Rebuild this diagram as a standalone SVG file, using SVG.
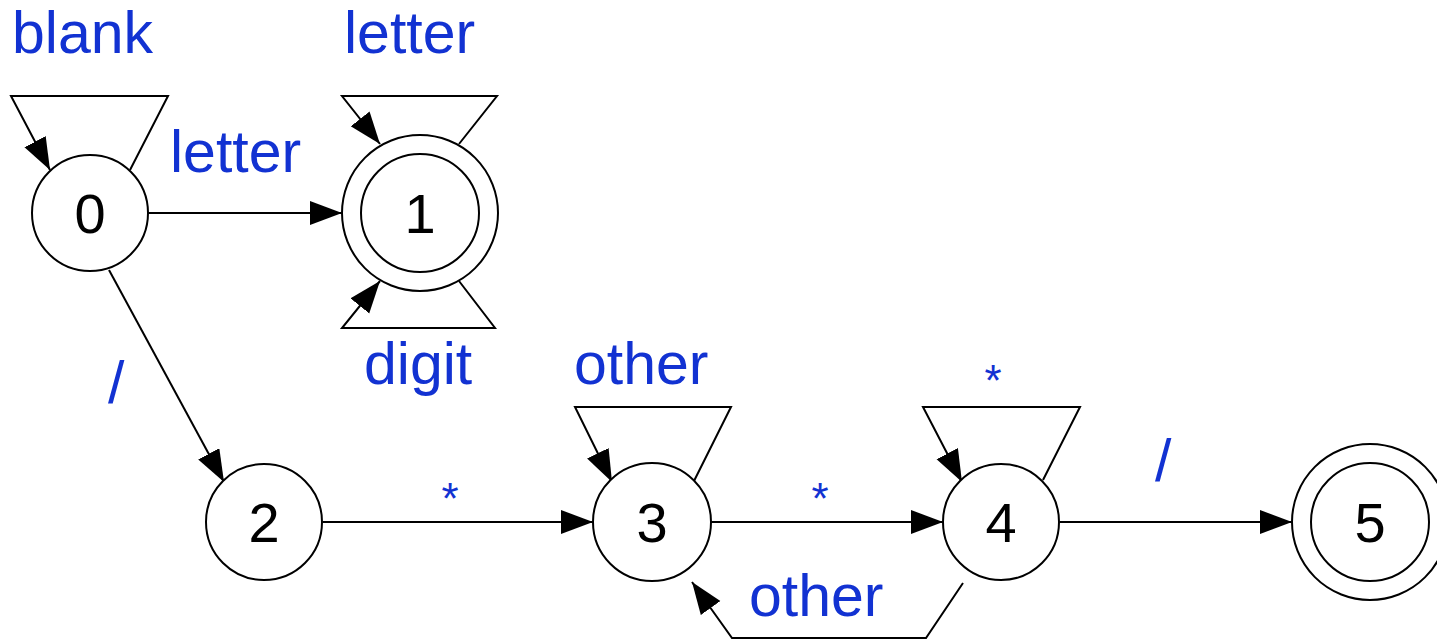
<svg xmlns="http://www.w3.org/2000/svg" width="1437" height="639" viewBox="0 0 1437 639">
  <style>
    .state { fill: #ffffff; stroke: #000000; stroke-width: 2; }
    .num { font-family: "Liberation Sans", Arial, sans-serif; font-size: 56px; fill: #000000; text-anchor: middle; }
    .edge { fill: none; stroke: #000000; stroke-width: 2; marker-end: url(#arrow); }
    .lbl { font-family: "Liberation Sans", Arial, sans-serif; font-size: 59px; fill: #1232d2; }
    .star { font-family: "Liberation Sans", Arial, sans-serif; font-size: 44px; fill: #1232d2; text-anchor: middle; }
  </style>
  <defs>
    <marker id="arrow" markerUnits="userSpaceOnUse" markerWidth="34" markerHeight="26" refX="32" refY="12" orient="auto">
      <path d="M0,0 L32,12 L0,24 z" fill="#000000"/>
    </marker>
  </defs>
  <rect width="1437" height="639" fill="#ffffff"/>

  <!-- transitions -->
  <g id="connectors">
    <polyline class="edge" points="130,170 168,96 11,96 50,170"/>
    <line class="edge" x1="148" y1="213" x2="342" y2="213"/>
    <polyline class="edge" points="459,144 497,96 342,96 380,144"/>
    <polyline class="edge" points="459,281 495,328 342,328 380,281"/>
    <line class="edge" x1="109" y1="270" x2="224" y2="482"/>
    <line class="edge" x1="323" y1="522" x2="593" y2="522"/>
    <polyline class="edge" points="694,481 731,407 575,407 612,482"/>
    <line class="edge" x1="711" y1="522" x2="943" y2="522"/>
    <polyline class="edge" points="1043,480 1080,407 923,407 962,482"/>
    <polyline class="edge" points="963,583 926,638 732,638 692,582"/>
    <line class="edge" x1="1060" y1="522" x2="1292" y2="522"/>
  </g>

  <!-- transition labels -->
  <g id="labels">
    <text class="lbl" x="12" y="53">blank</text>
    <text class="lbl" x="344" y="53">letter</text>
    <text class="lbl" x="170" y="172">letter</text>
    <text class="lbl" x="364" y="384">digit</text>
    <text class="lbl" x="108" y="403">/</text>
    <text class="lbl" x="574" y="384">other</text>
    <text class="star" x="993" y="396">*</text>
    <text class="star" x="450" y="514">*</text>
    <text class="star" x="820" y="514">*</text>
    <text class="lbl" x="1155" y="481">/</text>
    <text class="lbl" x="749" y="616">other</text>
  </g>

  <g id="node0">
    <circle class="state" cx="90" cy="213" r="58"/>
    <text class="num" x="90" y="233">0</text>
  </g>
  <g id="node1">
    <circle class="state" cx="420" cy="213" r="78"/>
    <circle class="state" cx="420" cy="213" r="59"/>
    <text class="num" x="420" y="233">1</text>
  </g>
  <g id="node2">
    <circle class="state" cx="264" cy="522" r="58"/>
    <text class="num" x="264" y="542">2</text>
  </g>
  <g id="node3">
    <circle class="state" cx="652" cy="522" r="59"/>
    <text class="num" x="652" y="542">3</text>
  </g>
  <g id="node4">
    <circle class="state" cx="1001" cy="522" r="58"/>
    <text class="num" x="1001" y="542">4</text>
  </g>
  <g id="node5">
    <circle class="state" cx="1370" cy="522" r="78"/>
    <circle class="state" cx="1370" cy="522" r="59"/>
    <text class="num" x="1370" y="542">5</text>
  </g>
</svg>
